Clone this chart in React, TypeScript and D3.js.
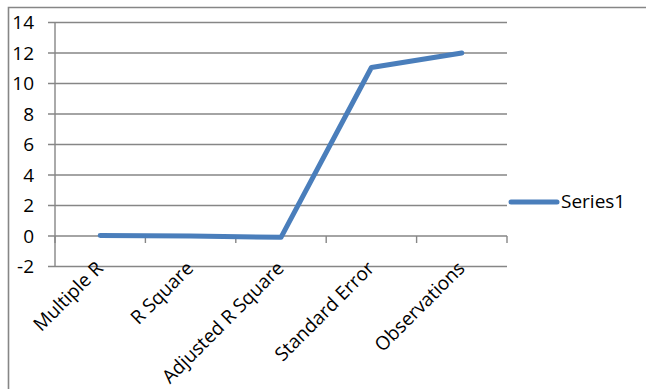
import React from "react";
import * as d3 from "d3";

const categories = ["Multiple R", "R Square", "Adjusted R Square", "Standard Error", "Observations"];
const series1 = [0.03, 0.001, -0.09, 11.05, 12];
const yTicks = [-2, 0, 2, 4, 6, 8, 10, 12, 14];
const seriesName = "Series1";

const W = 646;
const H = 389;
const FONT = "'Open Sans', sans-serif";
const FS = 19;
const GRID = "#868686";
const BLUE = "#4A7EBB";

export default function App() {
  const x = d3.scaleBand<string>().domain(categories).range([55, 507]);
  const y = d3.scaleLinear().domain([-2, 14]).range([266.5, 22.5]);
  const cx = (c: string) => (x(c) ?? 0) + x.bandwidth() / 2;

  const line = d3
    .line<number>()
    .x((_, i) => cx(categories[i]))
    .y((d) => y(d));

  const boundaries = [...categories.map((c) => x(c) ?? 0), x.range()[1]];
  const y0 = y(0);

  return (
    <svg
      width={W}
      height={H}
      style={{ position: "absolute", left: 0, top: 0, display: "block" }}
      fontFamily={FONT}
    >
      <rect x={0} y={0} width={W} height={H} fill="#fff" />
      {/* chart frame */}
      <path d={`M8.5,${H + 2} V7.5 H${W + 2}`} fill="none" stroke={GRID} strokeWidth={1.6} />

      {/* horizontal gridlines */}
      {yTicks.map((t) => (
        <line key={t} x1={48} x2={507} y1={y(t)} y2={y(t)} stroke={GRID} strokeWidth={1.4} />
      ))}
      {/* value axis */}
      <line x1={55} x2={55} y1={y(14)} y2={y(-2)} stroke={GRID} strokeWidth={1.4} />
      {yTicks.map((t) => (
        <text key={t} x={34} y={y(t)} dy="0.36em" textAnchor="end" fontSize={FS} fill="#000">
          {t}
        </text>
      ))}

      {/* category tick marks on the zero line */}
      {boundaries.map((b, i) => (
        <line key={i} x1={b} x2={b} y1={y0} y2={y0 + 7} stroke={GRID} strokeWidth={1.4} />
      ))}

      {/* category labels */}
      {categories.map((c) => (
        <text
          key={c}
          transform={`translate(${cx(c) + 4},${y(-2) + 3}) rotate(-45)`}
          textAnchor="end"
          fontSize={FS}
          fill="#000"
        >
          {c}
        </text>
      ))}

      {/* data line */}
      <path
        d={line(series1) ?? ""}
        fill="none"
        stroke={BLUE}
        strokeWidth={5}
        strokeLinejoin="round"
        strokeLinecap="round"
      />

      {/* legend */}
      <line x1={511} x2={557} y1={202} y2={202} stroke={BLUE} strokeWidth={5} strokeLinecap="round" />
      <text x={561} y={201} dy="0.36em" fontSize={FS} fill="#000">
        {seriesName}
      </text>
    </svg>
  );
}
